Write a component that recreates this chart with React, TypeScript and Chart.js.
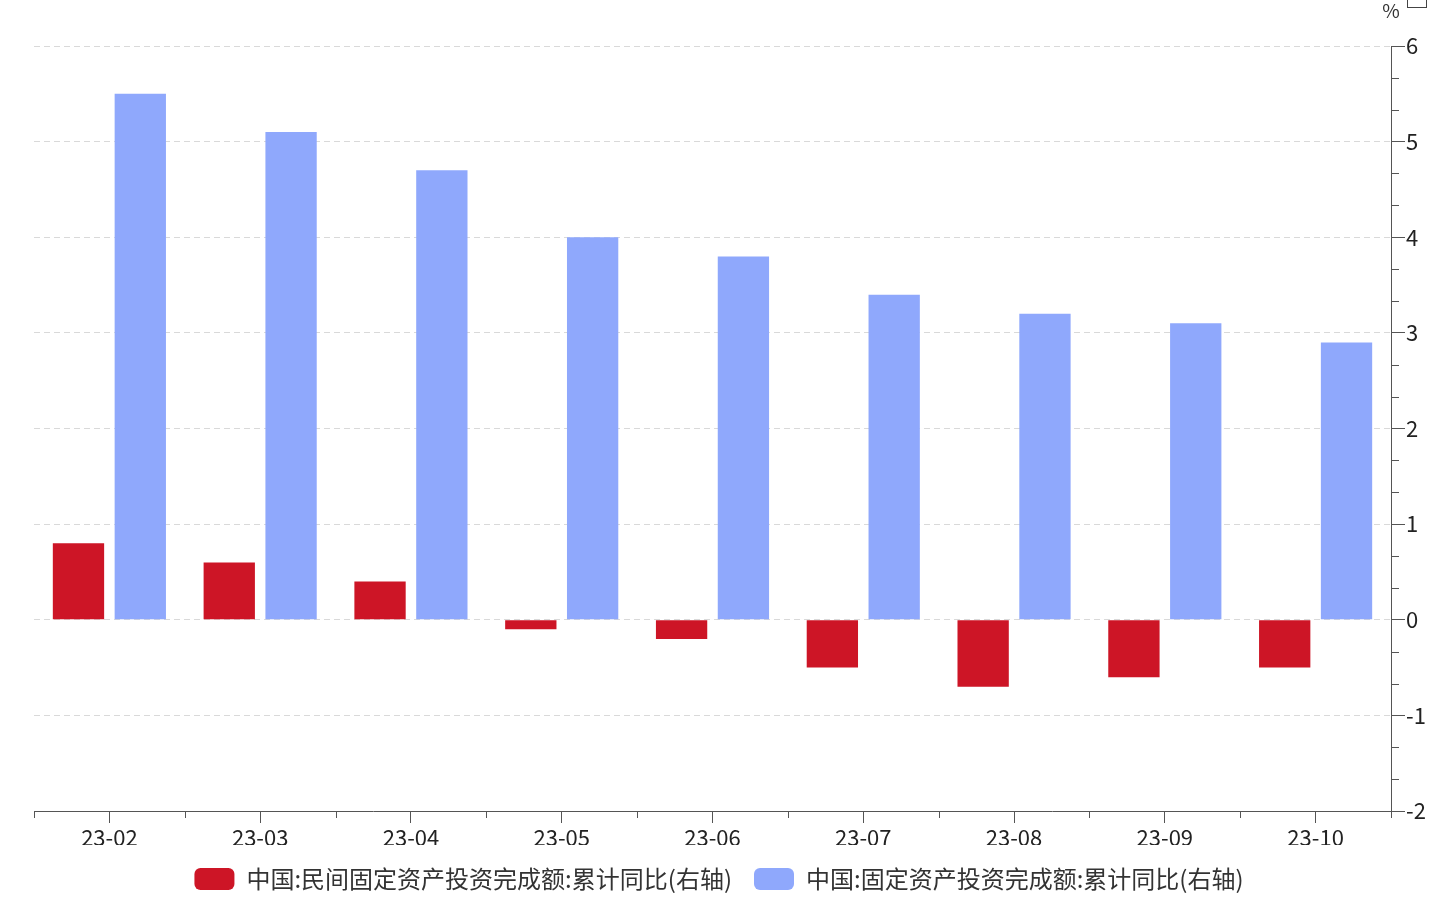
import React, { useEffect, useRef } from 'react';
import { Chart, registerables } from 'chart.js';

Chart.register(...registerables);

const categories = ['23-02', '23-03', '23-04', '23-05', '23-06', '23-07', '23-08', '23-09', '23-10'];
const privateInvestYoY = [0.8, 0.6, 0.4, -0.1, -0.2, -0.5, -0.7, -0.6, -0.5];
const totalInvestYoY = [5.5, 5.1, 4.7, 4.0, 3.8, 3.4, 3.2, 3.1, 2.9];
const seriesNames = [
  '中国:民间固定资产投资完成额:累计同比(右轴)',
  '中国:固定资产投资完成额:累计同比(右轴)',
];
const yMin = -2;
const yMax = 6;
const unitLabel = '%';

const FONT = '"Noto Sans CJK SC", "Noto Sans", sans-serif';
const AXIS = '#555555';

const extrasPlugin = {
  id: 'extras',
  afterDraw(chart: any) {
    const ctx = chart.ctx;
    const x = chart.scales.x;
    const y = chart.scales.y;
    ctx.save();
    ctx.strokeStyle = AXIS;
    ctx.lineWidth = 1;
    ctx.setLineDash([]);
    ctx.beginPath();
    for (let i = 0; i <= categories.length; i++) {
      const px = Math.round(x.getPixelForValue(i - 0.5)) + 0.5;
      ctx.moveTo(px, x.top);
      ctx.lineTo(px, x.top + 7);
    }
    for (let v = yMin; v < yMax; v++) {
      for (let k = 1; k <= 2; k++) {
        const py = Math.round(y.getPixelForValue(v + k / 3)) + 0.5;
        ctx.moveTo(y.left, py);
        ctx.lineTo(y.left + 8, py);
      }
    }
    ctx.stroke();
    ctx.fillStyle = '#333';
    ctx.font = `19px ${FONT}`;
    ctx.textAlign = 'center';
    ctx.textBaseline = 'alphabetic';
    ctx.fillText(unitLabel, y.left, 18);
    ctx.strokeStyle = '#444';
    ctx.strokeRect(y.left + 16.5, -10.5, 19, 18);
    ctx.restore();
  },
};

export default function App() {
  const ref = useRef<HTMLCanvasElement>(null);
  useEffect(() => {
    if (!ref.current) return;
    const chart = new Chart(ref.current, {
      type: 'bar',
      data: {
        labels: categories,
        datasets: [
          {
            label: seriesNames[0],
            data: privateInvestYoY,
            backgroundColor: '#CD1526',
            borderWidth: 0,
            categoryPercentage: 0.82,
            barPercentage: 0.83,
            yAxisID: 'y',
          },
          {
            label: seriesNames[1],
            data: totalInvestYoY,
            backgroundColor: '#8FA8FC',
            borderWidth: 0,
            categoryPercentage: 0.82,
            barPercentage: 0.83,
            yAxisID: 'y',
          },
        ],
      },
      options: {
        responsive: false,
        animation: false,
        layout: { padding: { left: 0, top: 46, right: 0, bottom: 0 } },
        plugins: {
          tooltip: { enabled: false },
          legend: {
            position: 'bottom',
            labels: {
              boxWidth: 40,
              boxHeight: 22,
              useBorderRadius: true,
              borderRadius: 6,
              padding: 22,
              color: '#333',
              font: { family: FONT, size: 24 },
            },
          },
        },
        scales: {
          x: {
            offset: true,
            grid: {
              display: true,
              drawOnChartArea: false,
              offset: false,
              tickLength: 12,
              tickColor: AXIS,
            },
            border: { color: AXIS, width: 1 },
            ticks: { color: '#222', font: { family: FONT, size: 22 }, padding: 1, maxRotation: 0 },
            afterFit: (s: any) => { s.height = 34; },
          },
          y: {
            position: 'right',
            min: yMin,
            max: yMax,
            ticks: { stepSize: 1, color: '#222', font: { family: FONT, size: 22 }, padding: 1 },
            grid: {
              color: '#d9d9d9',
              tickColor: AXIS,
              tickLength: 14,
            },
            border: { color: AXIS, width: 1, dash: [6, 4] },
            afterFit: (s: any) => { s.width = 47; },
          },
          spacer: {
            type: 'linear',
            position: 'left',
            min: yMin,
            max: yMax,
            ticks: { display: false },
            grid: { display: false, drawTicks: false },
            border: { display: false },
            afterFit: (s: any) => { s.width = 34; },
          },
        },
      },
      plugins: [extrasPlugin],
    });
    return () => chart.destroy();
  }, []);
  return (
    <div style={{ position: 'absolute', left: 0, top: 0, width: 1438, height: 901, background: '#fff' }}>
      <canvas ref={ref} width={1438} height={901} />
    </div>
  );
}
